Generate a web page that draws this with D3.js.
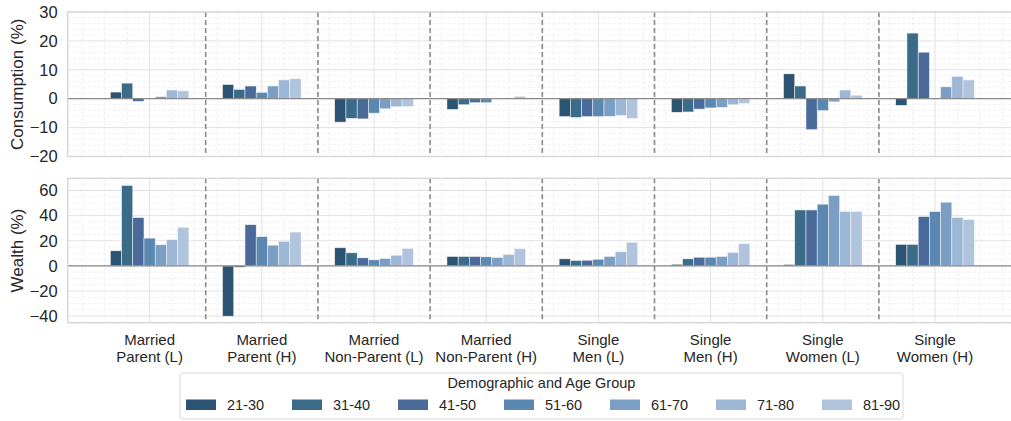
<!DOCTYPE html>
<html>
<head>
<meta charset="utf-8">
<script src="https://cdn.jsdelivr.net/npm/d3@7"></script>
<style>
  html, body { margin: 0; padding: 0; background: #fff; }
  svg { display: block; font-family: "Liberation Sans", Arial, sans-serif; }
</style>
</head>
<body>
<svg id="chart" width="1011" height="421"></svg>
<script>
// Household types (two-line tick labels)
const groups = [
  ["Married", "Parent (L)"],
  ["Married", "Parent (H)"],
  ["Married", "Non-Parent (L)"],
  ["Married", "Non-Parent (H)"],
  ["Single", "Men (L)"],
  ["Single", "Men (H)"],
  ["Single", "Women (L)"],
  ["Single", "Women (H)"]
];
const ageGroups = ["21-30", "31-40", "41-50", "51-60", "61-70", "71-80", "81-90"];
const ageColors = ["#2c5371", "#3a6b88", "#4a6b9a", "#5b88b1", "#7b9ec4", "#9db7d6", "#b1c4dd"];

// Consumption change (%), one row per household type, columns by age group
const consumption = [
  [2.3, 5.4, -0.9, 0.0, 0.7, 3.0, 2.7],
  [4.9, 3.2, 4.4, 2.2, 4.4, 6.5, 6.9],
  [-8.1, -6.8, -7.0, -5.0, -3.5, -2.8, -2.7],
  [-3.7, -2.1, -1.4, -1.4, 0.0, 0.2, 0.8],
  [-6.2, -6.5, -6.2, -6.2, -6.1, -5.8, -6.8],
  [-4.7, -4.6, -3.6, -3.2, -3.0, -2.1, -1.6],
  [8.6, 4.4, -10.7, -4.1, -1.1, 3.0, 1.2],
  [-2.3, 22.7, 16.1, 0.0, 4.1, 7.7, 6.5]
];

// Wealth change (%), same layout
const wealth = [
  [12.0, 64.0, 38.4, 22.1, 16.8, 20.8, 30.7],
  [-40.0, -1.1, 32.8, 23.2, 16.5, 19.5, 26.9],
  [14.4, 10.4, 6.4, 4.8, 5.9, 8.5, 13.9],
  [7.5, 7.5, 7.5, 7.2, 6.7, 9.1, 13.6],
  [5.6, 4.3, 4.5, 5.3, 7.5, 11.2, 18.7],
  [1.3, 5.6, 6.9, 6.9, 7.5, 10.7, 17.6],
  [1.1, 44.5, 44.5, 49.1, 56.0, 43.2, 43.2],
  [17.1, 17.1, 39.2, 43.2, 50.7, 38.4, 36.8]
];

const consumptionTicks = [-20, -10, 0, 10, 20, 30];
const wealthTicks = [-40, -20, 0, 20, 40, 60];

const svg = d3.select("#chart");
const textColor = "#262626";

const left = 67.7;
const x = d3.scaleLinear().domain([-0.73, 7.73]).range([left, left + 8.46 * 112.2]);
const xRight = x(7.73);

const barSlot = 0.1;

function panel(cfg) {
  const y = d3.scaleLinear().domain(cfg.domain).range([cfg.bottom, cfg.top]);
  const g = svg.append("g");

  // minor grid
  const minorX = d3.range(-0.6, 7.61, 0.2).map(v => Math.round(v * 10) / 10)
    .filter(v => Math.abs(v - Math.round(v)) > 1e-6);
  g.selectAll(".mgx").data(minorX).join("line")
    .attr("x1", d => x(d)).attr("x2", d => x(d))
    .attr("y1", cfg.top).attr("y2", cfg.bottom)
    .attr("stroke", "#ececec").attr("stroke-width", 0.8).attr("stroke-dasharray", "3,2");
  const minorY = d3.range(cfg.minorStart, cfg.domain[1], cfg.minorStep)
    .filter(v => Math.abs(v % cfg.majorStep) > 1e-6);
  g.selectAll(".mgy").data(minorY).join("line")
    .attr("x1", left).attr("x2", xRight)
    .attr("y1", d => y(d)).attr("y2", d => y(d))
    .attr("stroke", "#ececec").attr("stroke-width", 0.8).attr("stroke-dasharray", "3,2");

  // major grid
  g.selectAll(".gx").data(d3.range(0, 8)).join("line")
    .attr("x1", d => x(d)).attr("x2", d => x(d))
    .attr("y1", cfg.top).attr("y2", cfg.bottom)
    .attr("stroke", "#e2e2e2").attr("stroke-width", 1);
  g.selectAll(".gy").data(cfg.ticks).join("line")
    .attr("x1", left).attr("x2", xRight)
    .attr("y1", d => y(d)).attr("y2", d => y(d))
    .attr("stroke", "#e2e2e2").attr("stroke-width", 1);

  // bars
  const flat = [];
  cfg.values.forEach((row, gi) => row.forEach((v, ai) => flat.push({ gi, ai, v })));
  g.selectAll(".bar").data(flat.filter(d => d.v !== 0)).join("rect")
    .attr("x", d => x(d.gi + (d.ai - 3.5) * barSlot))
    .attr("width", x(barSlot) - x(0))
    .attr("y", d => y(Math.max(0, d.v)))
    .attr("height", d => Math.abs(y(d.v) - y(0)))
    .attr("fill", d => ageColors[d.ai])
    .attr("stroke", "#f2f2f2").attr("stroke-width", 0.55);

  // zero line
  g.append("line")
    .attr("x1", left).attr("x2", xRight)
    .attr("y1", y(0)).attr("y2", y(0))
    .attr("stroke", "#8a8a8a").attr("stroke-width", 1.3);

  // group separators
  g.selectAll(".sep").data(d3.range(0, 7)).join("line")
    .attr("x1", d => x(d + 0.5)).attr("x2", d => x(d + 0.5))
    .attr("y1", cfg.top).attr("y2", cfg.bottom)
    .attr("stroke", "#8a8a8a").attr("stroke-width", 1.6).attr("stroke-dasharray", "5,3");

  // frame
  g.append("rect")
    .attr("x", left).attr("y", cfg.top)
    .attr("width", xRight - left).attr("height", cfg.bottom - cfg.top)
    .attr("fill", "none").attr("stroke", "#d6d6d6").attr("stroke-width", 1.4);

  // y axis
  const ax = g.append("g").attr("transform", `translate(${left},0)`)
    .call(d3.axisLeft(y).tickValues(cfg.ticks).tickSize(0).tickPadding(10).tickFormat(d3.format("d")));
  ax.select(".domain").remove();
  ax.selectAll("text").attr("fill", textColor).style("font-size", "16.5px")
    .style("font-family", "'Liberation Sans', Arial, sans-serif");

  // y label
  svg.append("text")
    .attr("transform", `translate(23,${(cfg.top + cfg.bottom) / 2}) rotate(-90)`)
    .attr("text-anchor", "middle")
    .attr("fill", textColor)
    .style("font-size", "17px")
    .text(cfg.label);

  return y;
}

panel({
  values: consumption, domain: [-20, 30], top: 12, bottom: 156.5,
  ticks: consumptionTicks, majorStep: 10, minorStep: 2, minorStart: -18,
  label: "Consumption (%)"
});

panel({
  values: wealth, domain: [-45.2, 69.7], top: 178.3, bottom: 322.7,
  ticks: wealthTicks, majorStep: 20, minorStep: 5, minorStart: -45,
  label: "Wealth (%)"
});

// x tick labels under the lower panel
const xl = svg.append("g");
groups.forEach((lines, i) => {
  const t = xl.append("text")
    .attr("x", x(i)).attr("y", 345)
    .attr("text-anchor", "middle")
    .attr("fill", textColor)
    .style("font-size", "15px");
  lines.forEach((ln, k) => {
    t.append("tspan").attr("x", x(i)).attr("dy", k === 0 ? 0 : 17).text(ln);
  });
});

// legend
const lg = svg.append("g");
const lgLeft = 180, lgRight = 903, lgTop = 373, lgBottom = 419;
lg.append("rect")
  .attr("x", lgLeft).attr("y", lgTop)
  .attr("width", lgRight - lgLeft).attr("height", lgBottom - lgTop)
  .attr("rx", 3).attr("fill", "#fff")
  .attr("stroke", "#d8d8d8").attr("stroke-width", 1);
lg.append("text")
  .attr("x", (lgLeft + lgRight) / 2).attr("y", 388)
  .attr("text-anchor", "middle").attr("fill", textColor)
  .style("font-size", "14.5px")
  .text("Demographic and Age Group");
const item = lg.selectAll(".item").data(ageGroups).join("g")
  .attr("transform", (d, i) => `translate(${186 + i * 106},0)`);
item.append("rect")
  .attr("x", 0).attr("y", 399.5).attr("width", 30).attr("height", 10.5)
  .attr("fill", (d, i) => ageColors[i]);
item.append("text")
  .attr("x", 41).attr("y", 410)
  .attr("fill", textColor)
  .style("font-size", "14.5px")
  .text(d => d);
</script>
</body>
</html>
